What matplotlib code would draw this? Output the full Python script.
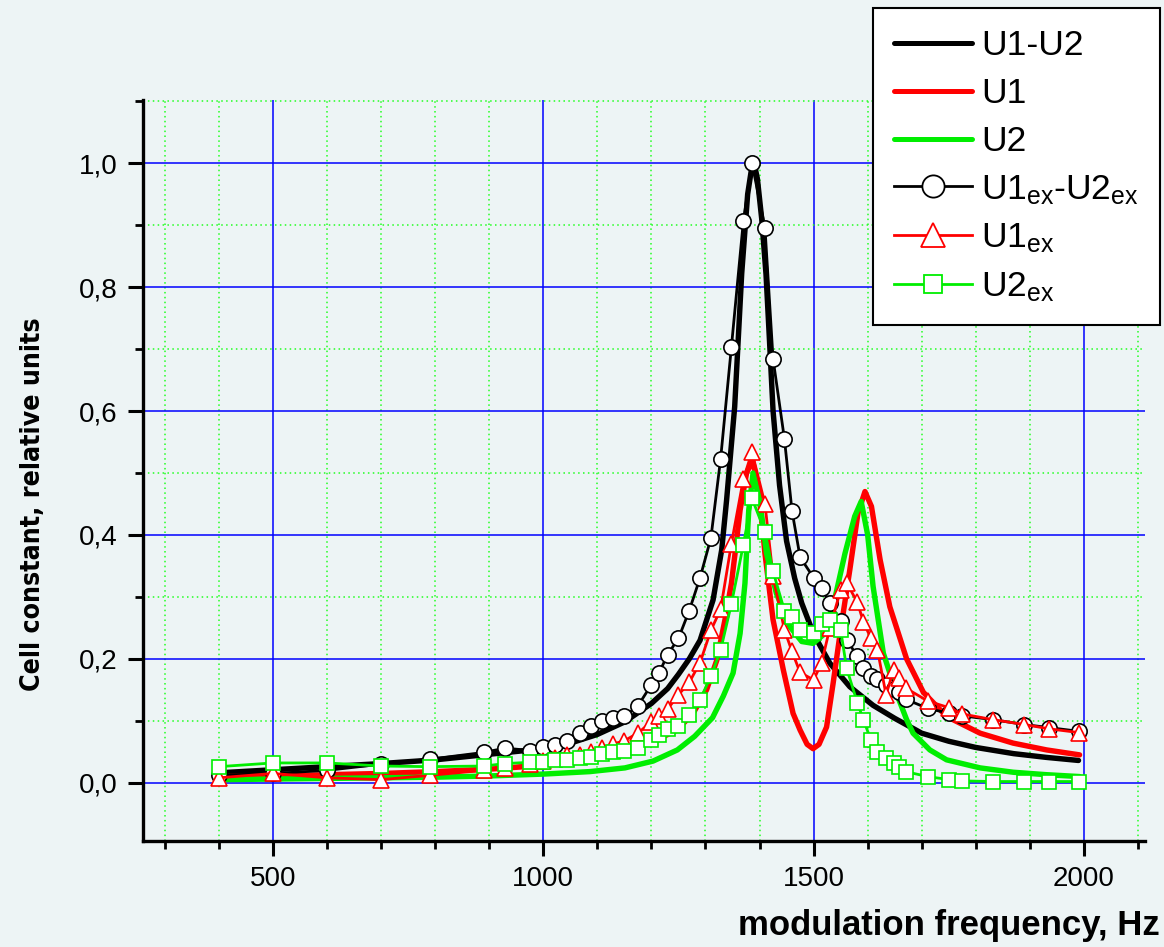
import matplotlib
matplotlib.use("Agg")
import matplotlib.pyplot as plt
from matplotlib.ticker import MultipleLocator, FuncFormatter
from matplotlib.lines import Line2D
from matplotlib import font_manager as fm

plt.rcParams['font.family'] = ['Liberation Sans', 'DejaVu Sans']
plt.rcParams['mathtext.fontset'] = 'custom'
plt.rcParams['mathtext.rm'] = 'Liberation Sans'
plt.rcParams['mathtext.it'] = 'Liberation Sans'

# ---------------- data ----------------
# theoretical curves
f_diff = [400, 500, 600, 700, 800, 900, 1000, 1050, 1100, 1150, 1200, 1230, 1250, 1270, 1290,
          1314, 1330, 1339, 1354, 1367, 1378, 1385, 1390, 1396, 1404, 1412, 1418, 1425, 1437,
          1450, 1465, 1478, 1500, 1530, 1567, 1610, 1650, 1700, 1750, 1800, 1870, 1930, 1990]
v_diff = [0.016, 0.021, 0.026, 0.031, 0.037, 0.046, 0.055, 0.064, 0.078, 0.098, 0.128, 0.152,
          0.175, 0.200, 0.230, 0.295, 0.376, 0.456, 0.607, 0.822, 0.950, 0.990, 1.000, 0.975,
          0.910, 0.820, 0.720, 0.600, 0.480, 0.390, 0.330, 0.290, 0.240, 0.193, 0.155, 0.125,
          0.104, 0.080, 0.067, 0.057, 0.047, 0.041, 0.036]

f_u1 = [400, 500, 600, 700, 800, 900, 1000, 1100, 1136, 1197, 1247, 1277, 1302, 1321, 1336,
        1348, 1357, 1364, 1376, 1387, 1398, 1410, 1425, 1444, 1462, 1475, 1488, 1499, 1510,
        1524, 1536, 1549, 1567, 1582, 1595, 1607, 1623, 1641, 1672, 1703, 1746, 1808, 1869,
        1931, 1992]
v_u1 = [0.010, 0.011, 0.013, 0.015, 0.018, 0.022, 0.028, 0.040, 0.050, 0.064, 0.085, 0.112,
        0.150, 0.198, 0.263, 0.322, 0.387, 0.440, 0.500, 0.520, 0.478, 0.370, 0.263, 0.182,
        0.112, 0.085, 0.062, 0.055, 0.062, 0.090, 0.160, 0.241, 0.344, 0.435, 0.470, 0.446,
        0.360, 0.284, 0.200, 0.146, 0.107, 0.080, 0.064, 0.053, 0.045]

f_u2 = [400, 500, 600, 700, 800, 900, 1000, 1086, 1151, 1203, 1248, 1280, 1313, 1333, 1351,
        1364, 1373, 1380, 1388, 1401, 1413, 1431, 1456, 1478, 1499, 1521, 1540, 1558, 1576,
        1588, 1600, 1610, 1629, 1653, 1672, 1684, 1715, 1746, 1808, 1869, 1931, 1992]
v_u2 = [0.005, 0.006, 0.007, 0.008, 0.009, 0.011, 0.014, 0.018, 0.024, 0.035, 0.053, 0.075,
        0.105, 0.140, 0.177, 0.241, 0.322, 0.440, 0.500, 0.451, 0.370, 0.306, 0.252, 0.228,
        0.225, 0.241, 0.300, 0.370, 0.430, 0.454, 0.400, 0.317, 0.209, 0.145, 0.102, 0.080,
        0.053, 0.037, 0.024, 0.017, 0.013, 0.010]

# experimental points
f_ex = [400, 500, 600, 700, 790, 890, 930, 975, 1000, 1022, 1044, 1068, 1088, 1108, 1128, 1150,
        1175, 1199, 1214, 1230, 1250, 1270, 1290, 1310, 1328, 1348, 1370, 1386, 1410, 1425,
        1446, 1460, 1475, 1500, 1515, 1530, 1550, 1561, 1581, 1592, 1606, 1618, 1634, 1648,
        1658, 1670, 1711, 1751, 1775, 1831, 1890, 1936, 1991]
v_diff_ex = [0.012, 0.015, 0.020, 0.030, 0.038, 0.049, 0.056, 0.052, 0.057, 0.061, 0.068, 0.080,
             0.092, 0.100, 0.104, 0.107, 0.124, 0.157, 0.177, 0.207, 0.233, 0.278, 0.331, 0.395,
             0.523, 0.704, 0.906, 1.000, 0.896, 0.684, 0.555, 0.439, 0.364, 0.331, 0.315, 0.290,
             0.261, 0.231, 0.204, 0.185, 0.173, 0.168, 0.158, 0.152, 0.147, 0.135, 0.120, 0.112,
             0.108, 0.102, 0.094, 0.089, 0.083]
v_u1_ex = [0.008, 0.015, 0.008, 0.005, 0.012, 0.020, 0.024, 0.030, 0.035, 0.040, 0.045, 0.045,
           0.050, 0.056, 0.062, 0.068, 0.080, 0.098, 0.108, 0.119, 0.142, 0.162, 0.194, 0.246,
           0.280, 0.386, 0.490, 0.534, 0.450, 0.333, 0.247, 0.212, 0.178, 0.166, 0.194, 0.250,
           0.311, 0.323, 0.291, 0.260, 0.233, 0.215, 0.142, 0.182, 0.169, 0.153, 0.132, 0.121,
           0.111, 0.102, 0.094, 0.087, 0.081]
v_u2_ex = [0.026, 0.032, 0.032, 0.027, 0.026, 0.027, 0.031, 0.033, 0.034, 0.036, 0.037, 0.040,
           0.042, 0.047, 0.050, 0.052, 0.056, 0.069, 0.077, 0.086, 0.092, 0.110, 0.134, 0.172,
           0.214, 0.289, 0.384, 0.459, 0.405, 0.341, 0.278, 0.267, 0.246, 0.241, 0.256, 0.263,
           0.247, 0.185, 0.129, 0.102, 0.069, 0.050, 0.040, 0.032, 0.026, 0.018, 0.010, 0.005,
           0.003, 0.002, 0.002, 0.002, 0.002]

labels = ['U1-U2', 'U1', 'U2',
          r'U1$_{\mathrm{ex}}$-U2$_{\mathrm{ex}}$', r'U1$_{\mathrm{ex}}$', r'U2$_{\mathrm{ex}}$']

# ---------------- figure ----------------
BG = '#EDF4F5'
RED = '#FF0000'
GREEN = '#00EE00'
fig = plt.figure(figsize=(11.64, 9.47), dpi=100, facecolor=BG)
ax = fig.add_axes([143/1164, 1-841/947, (1145-143)/1164, (841-100)/947])
ax.set_facecolor(BG)

ax.set_xlim(259.5, 2113)
ax.set_ylim(-0.094, 1.102)

# grid
ax.xaxis.set_major_locator(MultipleLocator(500))
ax.xaxis.set_minor_locator(MultipleLocator(100))
ax.yaxis.set_major_locator(MultipleLocator(0.2))
ax.yaxis.set_minor_locator(MultipleLocator(0.1))
ax.grid(which='major', color='#0000FF', lw=1.1, ls='-', zorder=0)
ax.grid(which='minor', color='#22FF22', lw=1.1, ls=(0, (1, 2.2)), zorder=0)
ax.set_axisbelow(True)

ax.yaxis.set_major_formatter(FuncFormatter(lambda v, p: f'{v:.1f}'.replace('.', ',')))

for s in ['top', 'right']:
    ax.spines[s].set_visible(False)
for s in ['left', 'bottom']:
    ax.spines[s].set_linewidth(2.4)

ax.tick_params(which='major', length=11, width=2.2, direction='out', labelsize=20, pad=7)
ax.tick_params(which='minor', length=6, width=2.0, direction='out')

# theory
ax.plot(f_diff, v_diff, color='black', lw=3.9, zorder=3, solid_capstyle='round')
ax.plot(f_u1, v_u1, color=RED, lw=3.9, zorder=3, solid_capstyle='round')
ax.plot(f_u2, v_u2, color=GREEN, lw=3.9, zorder=3, solid_capstyle='round')
# experiment
ax.plot(f_ex, v_diff_ex, color='black', lw=2.0, marker='o', ms=11, mfc='white',
        mec='black', mew=1.2, zorder=4)
ax.plot(f_ex, v_u1_ex, color=RED, lw=2.0, marker='^', ms=12, mfc='white',
        mec=RED, mew=1.2, zorder=5)
ax.plot(f_ex, v_u2_ex, color=GREEN, lw=2.0, marker='s', ms=10, mfc='white',
        mec=GREEN, mew=1.2, zorder=6)

# labels
fig.text(1160/1164, 1-925/947, 'modulation frequency, Hz', ha='right', va='center',
         fontsize=25, fontweight='bold')

# y label: prefer a condensed bold face; size fitted so the label spans ~372 px
cands = [f for f in fm.fontManager.ttflist
         if ('Narrow' in f.name or 'Condensed' in f.name or f.stretch in ('condensed', 'semi-condensed'))
         and f.weight in ('bold', 700, 'semibold', 600)]
if cands:
    ylab_fp = fm.FontProperties(fname=cands[0].fname)
else:
    ylab_fp = fm.FontProperties(family='Liberation Sans', weight='bold')
ylab_fp.set_size(22)
ylab = fig.text(33/1164, 1-504/947, 'Cell constant, relative units', ha='center', va='center',
                rotation=90, fontproperties=ylab_fp)
fig.canvas.draw()
h = ylab.get_window_extent(fig.canvas.get_renderer()).height
ylab_fp.set_size(22 * 372.0 / h)
ylab.set_fontproperties(ylab_fp)

# legend
handles = [
    Line2D([], [], color='black', lw=3.6, solid_capstyle='round'),
    Line2D([], [], color=RED, lw=3.6, solid_capstyle='round'),
    Line2D([], [], color=GREEN, lw=3.6, solid_capstyle='round'),
    Line2D([], [], color='black', lw=2.0, marker='o', ms=16, mfc='white', mec='black', mew=1.3),
    Line2D([], [], color=RED, lw=2.0, marker='^', ms=17, mfc='white', mec=RED, mew=1.3),
    Line2D([], [], color=GREEN, lw=2.0, marker='s', ms=13, mfc='white', mec=GREEN, mew=1.3),
]
leg = fig.legend(handles, labels, loc='upper right', bbox_to_anchor=(1160/1164, 1-8/947),
                 bbox_transform=fig.transFigure, fontsize=25.5, frameon=True, fancybox=False,
                 edgecolor='black', facecolor='white', framealpha=1, handlelength=2.2,
                 handletextpad=0.25, labelspacing=0.42, borderpad=0.6, borderaxespad=0)
leg.get_frame().set_linewidth(1.5)

fig.savefig('out.png', dpi=100, facecolor=BG)
